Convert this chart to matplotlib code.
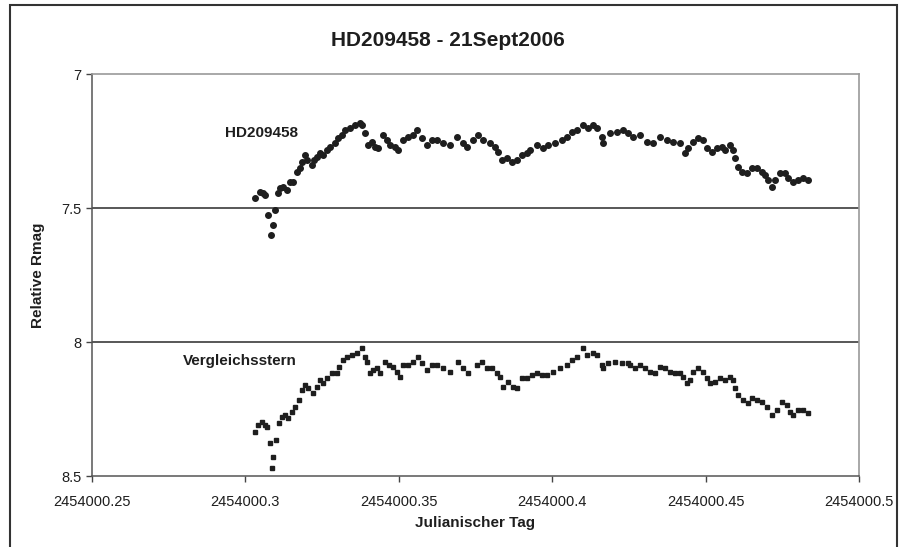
import numpy as np
import matplotlib
matplotlib.use("Agg")
import matplotlib.pyplot as plt
from matplotlib.patches import Rectangle

# Julian date = JD_BASE + fraction
JD_BASE = 2454000.0

hd_jd = [0.3031, 0.3048, 0.3057, 0.3064, 0.3074, 0.3083, 0.3090, 0.3097,
         0.3106, 0.3113, 0.3123, 0.3136, 0.3145, 0.3155, 0.3168, 0.3178,
         0.3185, 0.3194, 0.3201, 0.3217, 0.3224, 0.3233, 0.3243, 0.3253,
         0.3266, 0.3276, 0.3292, 0.3302, 0.3315, 0.3325, 0.3341, 0.3357,
         0.3374, 0.3380, 0.3390, 0.3400, 0.3413, 0.3422, 0.3432, 0.3449,
         0.3462, 0.3471, 0.3488, 0.3497, 0.3514, 0.3530, 0.3546, 0.3559,
         0.3576, 0.3592, 0.3608, 0.3625, 0.3644, 0.3667, 0.3690, 0.3709,
         0.3722, 0.3742, 0.3758, 0.3774, 0.3797, 0.3814, 0.3823, 0.3836,
         0.3853, 0.3869, 0.3885, 0.3902, 0.3918, 0.3928, 0.3951, 0.3970,
         0.3986, 0.4009, 0.4032, 0.4048, 0.4065, 0.4081, 0.4100, 0.4117,
         0.4133, 0.4146, 0.4162, 0.4166, 0.4188, 0.4211, 0.4231, 0.4247,
         0.4263, 0.4286, 0.4309, 0.4329, 0.4351, 0.4374, 0.4394, 0.4417,
         0.4433, 0.4443, 0.4459, 0.4475, 0.4492, 0.4505, 0.4521, 0.4537,
         0.4554, 0.4563, 0.4580, 0.4589, 0.4596, 0.4606, 0.4619, 0.4635,
         0.4651, 0.4668, 0.4684, 0.4694, 0.4703, 0.4716, 0.4726, 0.4743,
         0.4759, 0.4769, 0.4785, 0.4801, 0.4818, 0.4834]
hd_mag = [7.463, 7.440, 7.444, 7.451, 7.526, 7.601, 7.563, 7.507,
          7.444, 7.425, 7.422, 7.433, 7.403, 7.403, 7.366, 7.351,
          7.328, 7.302, 7.321, 7.340, 7.321, 7.310, 7.295, 7.302,
          7.284, 7.272, 7.257, 7.239, 7.228, 7.209, 7.201, 7.190,
          7.183, 7.190, 7.220, 7.265, 7.254, 7.272, 7.276, 7.228,
          7.246, 7.265, 7.272, 7.284, 7.246, 7.235, 7.228, 7.209,
          7.239, 7.265, 7.246, 7.246, 7.257, 7.265, 7.235, 7.257,
          7.272, 7.246, 7.228, 7.246, 7.257, 7.272, 7.291, 7.321,
          7.313, 7.328, 7.321, 7.302, 7.295, 7.284, 7.265, 7.276,
          7.265, 7.257, 7.246, 7.235, 7.216, 7.209, 7.190, 7.201,
          7.190, 7.201, 7.235, 7.257, 7.220, 7.216, 7.209, 7.220,
          7.235, 7.228, 7.254, 7.257, 7.235, 7.246, 7.254, 7.257,
          7.295, 7.276, 7.254, 7.239, 7.246, 7.276, 7.291, 7.276,
          7.272, 7.284, 7.265, 7.284, 7.313, 7.347, 7.366, 7.369,
          7.351, 7.351, 7.366, 7.377, 7.396, 7.422, 7.396, 7.369,
          7.369, 7.388, 7.403, 7.396, 7.388, 7.396]

ref_jd = [0.3031, 0.3041, 0.3054, 0.3064, 0.3070, 0.3080, 0.3087, 0.3090,
          0.3100, 0.3110, 0.3119, 0.3129, 0.3139, 0.3152, 0.3162, 0.3175,
          0.3185, 0.3194, 0.3204, 0.3220, 0.3233, 0.3243, 0.3253, 0.3266,
          0.3282, 0.3299, 0.3305, 0.3318, 0.3331, 0.3347, 0.3364, 0.3380,
          0.3390, 0.3396, 0.3406, 0.3416, 0.3429, 0.3439, 0.3455, 0.3468,
          0.3481, 0.3494, 0.3504, 0.3514, 0.3530, 0.3546, 0.3563, 0.3576,
          0.3592, 0.3608, 0.3625, 0.3644, 0.3667, 0.3693, 0.3709, 0.3726,
          0.3755, 0.3771, 0.3788, 0.3804, 0.3820, 0.3830, 0.3840, 0.3856,
          0.3872, 0.3885, 0.3902, 0.3918, 0.3934, 0.3951, 0.3967, 0.3983,
          0.4003, 0.4025, 0.4048, 0.4065, 0.4081, 0.4100, 0.4113, 0.4133,
          0.4146, 0.4162, 0.4166, 0.4182, 0.4205, 0.4228, 0.4247, 0.4254,
          0.4270, 0.4286, 0.4303, 0.4319, 0.4335, 0.4351, 0.4368, 0.4384,
          0.4400, 0.4417, 0.4426, 0.4439, 0.4449, 0.4459, 0.4475, 0.4492,
          0.4505, 0.4514, 0.4531, 0.4547, 0.4563, 0.4580, 0.4589, 0.4596,
          0.4606, 0.4622, 0.4638, 0.4651, 0.4668, 0.4684, 0.4700, 0.4716,
          0.4733, 0.4749, 0.4765, 0.4775, 0.4785, 0.4801, 0.4818, 0.4834]
ref_mag = [8.336, 8.310, 8.299, 8.310, 8.317, 8.377, 8.470, 8.429,
           8.366, 8.302, 8.280, 8.272, 8.284, 8.261, 8.243, 8.216,
           8.179, 8.160, 8.172, 8.190, 8.168, 8.142, 8.153, 8.134,
           8.116, 8.116, 8.093, 8.067, 8.056, 8.049, 8.041, 8.022,
           8.056, 8.075, 8.116, 8.104, 8.097, 8.116, 8.075, 8.086,
           8.093, 8.112, 8.131, 8.086, 8.086, 8.075, 8.056, 8.078,
           8.104, 8.086, 8.086, 8.097, 8.112, 8.075, 8.097, 8.116,
           8.086, 8.075, 8.097, 8.097, 8.116, 8.131, 8.168, 8.149,
           8.168, 8.172, 8.134, 8.134, 8.123, 8.116, 8.123, 8.123,
           8.112, 8.097, 8.086, 8.067, 8.056, 8.022, 8.049, 8.041,
           8.049, 8.086, 8.097, 8.078, 8.075, 8.078, 8.078, 8.086,
           8.097, 8.086, 8.097, 8.112, 8.116, 8.093, 8.097, 8.112,
           8.116, 8.116, 8.131, 8.153, 8.142, 8.112, 8.097, 8.112,
           8.134, 8.153, 8.149, 8.134, 8.142, 8.131, 8.142, 8.172,
           8.198, 8.216, 8.228, 8.209, 8.216, 8.224, 8.243, 8.272,
           8.254, 8.224, 8.235, 8.261, 8.272, 8.254, 8.254, 8.265]

x_ticks = [2454000.25, 2454000.3, 2454000.35, 2454000.4, 2454000.45, 2454000.5]
x_labels = ["2454000.25", "2454000.3", "2454000.35", "2454000.4",
            "2454000.45", "2454000.5"]
y_ticks = [7, 7.5, 8, 8.5]
y_labels = ["7", "7.5", "8", "8.5"]

plt.rcParams['font.family'] = ['Liberation Sans', 'DejaVu Sans']
ink = '#1e1e1e'

fig = plt.figure(figsize=(9, 5.47), dpi=100)
ax = fig.add_axes([92 / 900, 1 - 476 / 547, (859 - 92) / 900, (476 - 74) / 547])

hd_x = JD_BASE + np.array(hd_jd)
ref_x = JD_BASE + np.array(ref_jd)

ax.plot(hd_x, hd_mag, 'o', ms=4, color=ink, mec=ink, zorder=3)
ax.plot(ref_x, ref_mag, 's', ms=2.9, color=ink, mec=ink, zorder=3)

ax.set_xlim(2454000.25, 2454000.5)
ax.set_ylim(8.5, 7)
ax.set_xticks(x_ticks)
ax.set_xticklabels(x_labels)
ax.set_yticks(y_ticks)
ax.set_yticklabels(y_labels)
ax.tick_params(axis='both', labelsize=10.5, colors='#444', labelcolor=ink,
               length=4, width=1, direction='out')
ax.tick_params(axis='x', pad=10)

for v in [7.5, 8]:
    ax.axhline(v, color='#2a2a2a', lw=1.1, zorder=1)

for side in ['top', 'right']:
    ax.spines[side].set_color('#9a9a9a')
    ax.spines[side].set_linewidth(1.2)
for side in ['left', 'bottom']:
    ax.spines[side].set_color('#555')
    ax.spines[side].set_linewidth(1.1)

ax.text(JD_BASE + 0.2934, 7.22, 'HD209458', fontsize=11, fontweight='bold',
        color=ink, va='center', ha='left')
ax.text(JD_BASE + 0.2797, 8.071, 'Vergleichsstern', fontsize=11,
        fontweight='bold', color=ink, va='center', ha='left')

fig.text(448 / 900, 1 - 40 / 547, 'HD209458 - 21Sept2006', fontsize=15,
         fontweight='bold', color=ink, ha='center', va='center')
fig.text(38 / 900, 1 - 275 / 547, 'Relative Rmag', fontsize=11,
         fontweight='bold', color=ink, ha='center', va='center', rotation=90)
fig.text(475 / 900, 1 - 523 / 547, 'Julianischer Tag', fontsize=11,
         fontweight='bold', color=ink, ha='center', va='center')

# outer chart frame
fig.patches.append(Rectangle((10 / 900, -0.05), 887 / 900, 1.05 - 5 / 547,
                             transform=fig.transFigure, fill=False,
                             edgecolor='#333', lw=1.5))

fig.savefig('out.png', dpi=100)
